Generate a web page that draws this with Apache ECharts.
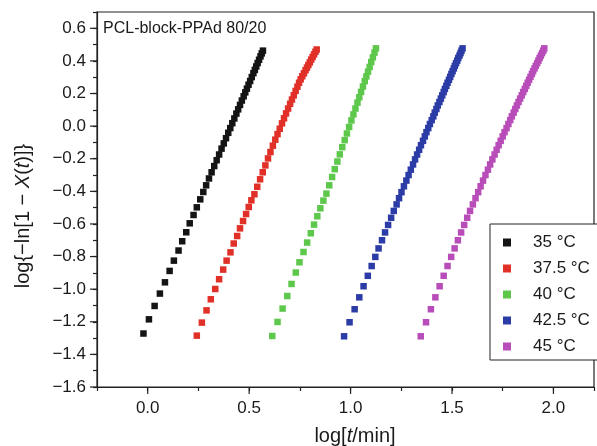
<!DOCTYPE html>
<html><head><meta charset="utf-8">
<script src="https://cdn.jsdelivr.net/npm/echarts@6/dist/echarts.min.js"></script>
<style>html,body{margin:0;padding:0;background:#fff}#c{width:597px;height:446px}</style>
</head><body><div id="c"></div>
<script>
const seriesNames = ['35 °C', '37.5 °C', '40 °C', '42.5 °C', '45 °C'];
const seriesColors = ['#141414', '#e03028', '#5ec84c', '#2c3ca6', '#b84cb8'];

const x35 = [-0.021,0.006,0.034,0.060,0.085,0.108,0.129,0.152,0.170,0.190,0.207,0.226,0.242,0.259,0.274,
  0.288,0.302,0.315,0.328,0.340,0.352,0.364,0.375,0.386,0.397,0.407,0.417,0.427,0.437,0.446,0.455,0.464,0.473,0.481,0.489,0.497,0.505,0.513,0.521,0.528,0.535,0.542,0.549,0.556,0.562,0.568];
const y35 = [-1.272,-1.185,-1.103,-1.027,-0.958,-0.888,-0.825,-0.763,-0.706,-0.651,-0.596,-0.545,-0.498,-0.449,-0.404,
  -0.363,-0.321,-0.283,-0.245,-0.209,-0.174,-0.138,-0.106,-0.074,-0.041,-0.012,0.018,0.047,0.077,0.103,0.130,0.157,0.183,0.207,0.230,0.254,0.277,0.301,0.325,0.345,0.366,0.387,0.407,0.428,0.446,0.463];

const x375 = [0.242,0.267,0.290,0.311,0.333,0.352,0.372,0.389,0.408,0.424,0.441,0.455,0.470,0.485,0.498,0.511,0.526,
  0.540,0.554,0.567,0.580,0.593,0.605,0.617,0.629,0.640,0.651,0.662,0.672,0.682,0.692,0.702,0.711,0.720,0.729,0.738,0.746,0.754,0.762,0.770,0.778,0.785,0.792,0.799,0.806,0.813,0.820,0.827,0.833];
const y375 = [-1.285,-1.205,-1.130,-1.062,-0.999,-0.939,-0.880,-0.825,-0.774,-0.720,-0.674,-0.627,-0.582,-0.539,-0.496,-0.455,-0.418,
  -0.372,-0.326,-0.283,-0.241,-0.198,-0.159,-0.120,-0.083,-0.049,-0.016,0.017,0.048,0.078,0.108,0.137,0.163,0.189,0.216,0.242,0.266,0.287,0.306,0.324,0.343,0.359,0.375,0.391,0.408,0.424,0.440,0.456,0.470];

const x40 = [0.614,0.640,0.665,0.688,0.709,0.730,0.748,0.768,0.786,0.804,0.820,0.836,0.851,0.866,0.881,
  0.895,0.909,0.922,0.935,0.947,0.959,0.971,0.982,0.993,1.004,1.014,1.024,1.034,1.043,1.052,1.061,1.070,1.078,1.086,1.094,1.102,1.110,1.118,1.125];
const y40 = [-1.287,-1.201,-1.119,-1.042,-0.968,-0.898,-0.835,-0.772,-0.714,-0.657,-0.604,-0.553,-0.504,-0.457,-0.414,
  -0.363,-0.312,-0.264,-0.217,-0.173,-0.129,-0.086,-0.045,-0.005,0.035,0.072,0.108,0.144,0.177,0.210,0.243,0.276,0.305,0.334,0.363,0.393,0.422,0.451,0.477];

const x425 = [0.968,0.995,1.020,1.043,1.064,1.085,1.104,1.122,1.138,1.155,1.170,1.185,1.200,1.213,1.227,1.239,
  1.251,1.263,1.275,1.286,1.297,1.308,1.318,1.328,1.338,1.347,1.357,1.366,1.374,1.383,1.391,1.400,1.408,1.415,1.423,1.430,1.438,1.445,1.452,1.459,1.465,1.472,1.478,1.485,1.491,1.497,1.503,1.509,1.514,1.520,1.526,1.531,1.537,1.542,1.547,1.552];
const y425 = [-1.289,-1.203,-1.123,-1.050,-0.982,-0.918,-0.858,-0.802,-0.750,-0.700,-0.652,-0.606,-0.562,-0.520,-0.480,-0.442,
  -0.405,-0.369,-0.334,-0.300,-0.267,-0.235,-0.204,-0.174,-0.145,-0.117,-0.090,-0.063,-0.037,-0.012,0.013,0.037,0.060,0.083,0.105,0.127,0.148,0.169,0.189,0.209,0.228,0.247,0.266,0.284,0.302,0.320,0.337,0.354,0.370,0.386,0.402,0.418,0.433,0.448,0.463,0.477];

const x45 = [1.346,1.372,1.396,1.418,1.439,1.459,1.478,1.496,1.513,1.529,1.545,1.560,1.575,1.589,1.603,1.616,
  1.629,1.641,1.653,1.665,1.677,1.688,1.699,1.710,1.720,1.730,1.740,1.750,1.759,1.769,1.778,1.787,1.795,1.804,1.812,1.820,1.828,1.836,1.844,1.851,1.859,1.866,1.873,1.880,1.887,1.894,1.900,1.907,1.913,1.920,1.926,1.932,1.938,1.944,1.950,1.955];
const y45 = [-1.289,-1.203,-1.123,-1.050,-0.982,-0.918,-0.858,-0.802,-0.750,-0.700,-0.652,-0.606,-0.562,-0.520,-0.480,-0.442,
  -0.405,-0.369,-0.334,-0.300,-0.267,-0.235,-0.204,-0.174,-0.145,-0.117,-0.090,-0.063,-0.037,-0.012,0.013,0.037,0.060,0.083,0.105,0.127,0.148,0.169,0.189,0.209,0.228,0.247,0.266,0.284,0.302,0.320,0.337,0.354,0.370,0.386,0.402,0.418,0.433,0.448,0.463,0.477];

const xMajor = [0.0, 0.5, 1.0, 1.5, 2.0];
const yMajor = [-1.6, -1.4, -1.2, -1.0, -0.8, -0.6, -0.4, -0.2, 0.0, 0.2, 0.4, 0.6];
const xRange = [-0.25, 2.2];
const yRange = [-1.6, 0.7];
const chartTitle = 'PCL-block-PPAd 80/20';

const FONT = '"Liberation Sans", Arial, Helvetica, sans-serif';
const AX = '#222';
const TXT = '#1a1a1a';
const allX = [x35, x375, x40, x425, x45];
const allY = [y35, y375, y40, y425, y45];

function isMajor(list, v) { return list.some(m => Math.abs(m - v) < 1e-6); }
function fmt(v) { const s = v.toFixed(1); return s.replace('-', '\u2212'); }

const chart = echarts.init(document.getElementById('c'), null, { renderer: 'canvas' });
const series = seriesNames.map((name, i) => ({
  name, type: 'scatter', symbol: 'rect', symbolSize: 6.5,
  itemStyle: { color: seriesColors[i], opacity: 1 },
  data: allX[i].map((x, j) => [x, allY[i][j]]),
  animation: false, emphasis: { disabled: true }
}));

chart.setOption({
  animation: false,
  backgroundColor: '#fff',
  grid: { left: 97, right: 2, top: 12, bottom: 59, show: true, borderColor: AX, borderWidth: 1.2, backgroundColor: 'transparent' },
  xAxis: {
    type: 'value', min: xRange[0], max: xRange[1], interval: 0.25,
    axisLine: { show: true, onZero: false, lineStyle: { color: AX, width: 1.2 } },
    axisTick: { show: true, inside: false, length: 4, lineStyle: { color: AX, width: 1.2 } },
    splitLine: { show: false },
    axisLabel: { margin: 13, fontSize: 17, fontFamily: FONT, color: TXT,
      formatter: v => isMajor(xMajor, v) ? fmt(v) : '' }
  },
  yAxis: {
    type: 'value', min: yRange[0], max: yRange[1], interval: 0.1,
    axisLine: { show: true, onZero: false, lineStyle: { color: AX, width: 1.2 } },
    axisTick: { show: true, inside: false, length: 4, lineStyle: { color: AX, width: 1.2 } },
    splitLine: { show: false },
    axisLabel: { margin: 11, fontSize: 17, fontFamily: FONT, color: TXT,
      formatter: v => isMajor(yMajor, v) ? fmt(v) : '' }
  },
  legend: {
    orient: 'vertical', left: 490, top: 224,
    data: seriesNames, icon: 'rect', itemWidth: 8, itemHeight: 8, itemGap: 9,
    padding: [10, 9, 5, 13], borderColor: AX, borderWidth: 1, borderRadius: 0,
    backgroundColor: '#fff',
    selectedMode: false,
    textStyle: { fontSize: 17, fontFamily: FONT, color: TXT, padding: [0, 0, 0, 17] }
  },
  series
});

const g = [];
xMajor.forEach((v, i) => {
  const p = chart.convertToPixel({ gridIndex: 0 }, [v, yRange[0]]);
  g.push({ type: 'line', id: 'xt' + i, shape: { x1: p[0], y1: p[1], x2: p[0], y2: p[1] + 7 }, style: { stroke: AX, lineWidth: 1.2 }, silent: true });
});
yMajor.forEach((v, i) => {
  const p = chart.convertToPixel({ gridIndex: 0 }, [xRange[0], v]);
  g.push({ type: 'line', id: 'yt' + i, shape: { x1: p[0] - 7, y1: p[1], x2: p[0], y2: p[1] }, style: { stroke: AX, lineWidth: 1.2 }, silent: true });
});
g.push({ type: 'text', id: 'ttl', x: 103, y: 29, style: { text: chartTitle, font: '16px ' + FONT, fill: TXT, verticalAlign: 'middle', align: 'left' }, silent: true });
g.push({ type: 'text', id: 'xname', x: 355, y: 436, style: {
  text: 'log[{i|t}/min]', font: '20px ' + FONT, fill: TXT, align: 'center', verticalAlign: 'middle',
  rich: { i: { fontStyle: 'italic', fontSize: 20, fontFamily: FONT, fill: TXT } } }, silent: true });
g.push({ type: 'text', id: 'yname', x: 23, y: 216, rotation: Math.PI / 2, style: {
  text: 'log{\u2212ln[1 \u2212 {i|X}({i|t})]}', font: '20px ' + FONT, fill: TXT, align: 'center', verticalAlign: 'middle',
  rich: { i: { fontStyle: 'italic', fontSize: 20, fontFamily: FONT, fill: TXT } } }, silent: true });
chart.setOption({ graphic: g });
</script>
</body></html>
